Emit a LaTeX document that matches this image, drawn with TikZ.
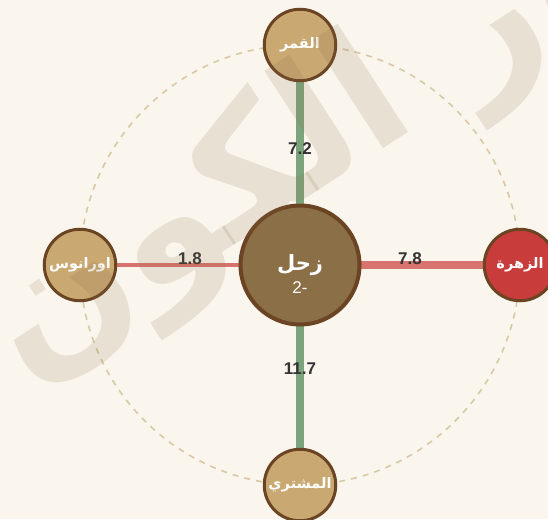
\documentclass[tikz,border=0pt]{standalone}
\usepackage{fontspec}
\setmainfont{Liberation Sans}
\newfontfamily\arabicfont[Script=Arabic]{DejaVu Sans}
\TeXXeTstate=1
\usetikzlibrary{backgrounds}
\definecolor{bgc}{HTML}{FAF6EE}
\definecolor{tan}{HTML}{C9A872}
\definecolor{rim}{HTML}{6B4423}
\definecolor{satfill}{HTML}{8B6F47}
\definecolor{venusred}{HTML}{C83C3C}
\definecolor{orbitc}{HTML}{D8C8A5}
\definecolor{greenl}{HTML}{7CA47C}
\definecolor{redl}{HTML}{D9736E}
\definecolor{lbl}{HTML}{333333}
\definecolor{wmc}{HTML}{8B6F47}
\pgfdeclarelayer{back}
\pgfdeclarelayer{edges}
\pgfdeclarelayer{front}
\pgfsetlayers{back,edges,main,front}
\tikzset{
  planet/.style={circle, draw=rim, line width=3pt, fill=tan, minimum size=71.5pt, inner sep=0pt,
    text=white, font=\arabicfont\bfseries\fontsize{14.5}{14.5}\selectfont},
  bigplanet/.style={circle, draw=rim, line width=4pt, fill=satfill, minimum size=119pt, inner sep=0pt},
  orbit/.style={draw=orbitc, line width=1.6pt, dash pattern=on 6pt off 6pt},
  greenedge/.style={draw=greenl, line width=8pt},
  rededge/.style={draw=redl, line width=4pt},
  redthick/.style={draw=redl, line width=8pt},
  elabel/.style={midway, yshift=6pt, text=lbl, font=\bfseries\fontsize{17}{17}\selectfont, inner sep=0pt},
  wm/.style={text=wmc, text opacity=0.16, font=\arabicfont\bfseries\fontsize{170}{170}\selectfont, inner sep=0pt}
}
\begin{document}
\begin{tikzpicture}[x=1pt,y=-1pt]
\useasboundingbox (0,0) rectangle (548,519);
\begin{pgfonlayer}{back}
\fill[bgc] (0,0) rectangle (548,519);
\end{pgfonlayer}
\coordinate (c) at (300,265);
% nodes
\node[bigplanet] (sat) at (c) {};
\node[text=white, font=\arabicfont\bfseries\fontsize{21}{21}\selectfont, inner sep=0pt] (satname) at (300,265) {\beginR زحل\endR};
\node[text=white, font=\fontsize{17}{17}\selectfont, inner sep=0pt] (satval) at (300,288) {2-};
\node[planet] (moon) at (300,45) {\beginR القمر\endR};
\node[planet] (uranus) at (80,265) {\beginR اورانوس\endR};
\node[planet, fill=venusred] (venus) at (520,265) {\beginR الزهرة\endR};
\node[planet] (jupiter) at (300,485) {\beginR المشتري\endR};
\begin{pgfonlayer}{edges}
\draw[orbit] (c) circle[radius=220];
\draw[greenedge] (sat.center) -- (moon.center) node[elabel] {7.2};
\draw[greenedge] (sat.center) -- (jupiter.center) node[elabel] {11.7};
\draw[rededge] (sat.center) -- (uranus.center) node[elabel] {1.8};
\draw[redthick] (sat.center) -- (venus.center) node[elabel] {7.8};
\end{pgfonlayer}
\begin{pgfonlayer}{front}
\node[wm, rotate=33, anchor=base west] (wmark) at (24,382) {\beginR نور الكون\endR};
\end{pgfonlayer}
\end{tikzpicture}
\end{document}
